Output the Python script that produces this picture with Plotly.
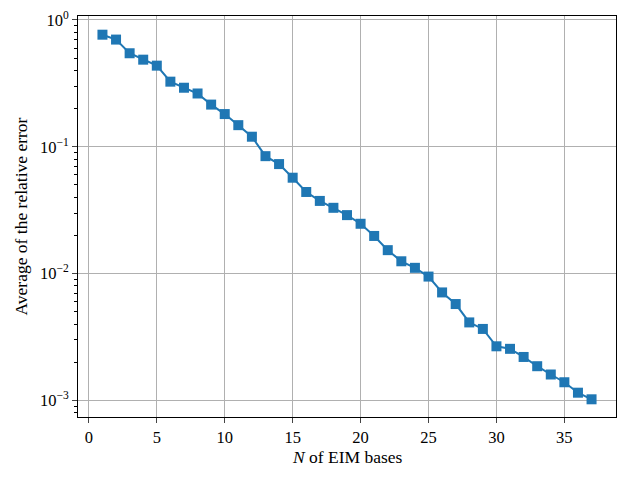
import plotly.graph_objects as go

n_bases = list(range(1, 38))
avg_rel_error = [0.765, 0.70, 0.546, 0.486, 0.436, 0.326, 0.292, 0.263, 0.215, 0.181,
                 0.148, 0.120, 0.0843, 0.073, 0.057, 0.044, 0.0374, 0.033, 0.0289, 0.0247,
                 0.0198, 0.0153, 0.0125, 0.0111, 0.00947, 0.0071, 0.00575, 0.00412, 0.00366, 0.00267,
                 0.00255, 0.0022, 0.00186, 0.0016, 0.00139, 0.00115, 0.00102]
x_ticks = [0, 5, 10, 15, 20, 25, 30, 35]
y_ticks = [1e-3, 1e-2, 1e-1, 1]
y_ticktext = ["10<sup>−3</sup>", "10<sup>−2</sup>", "10<sup>−1</sup>", "10<sup>0</sup>"]
y_minor = [m * d for d in (1e-4, 1e-3, 1e-2, 1e-1) for m in range(2, 10)]
x_title = "<i>N</i> of EIM bases"
y_title = "Average of the relative error"

font = "Liberation Serif, DejaVu Serif, serif"
fig = go.Figure(go.Scatter(
    x=n_bases, y=avg_rel_error, mode="lines+markers",
    line=dict(color="#1f77b4", width=2),
    marker=dict(symbol="square", size=10, color="#1f77b4",
                line=dict(color="#1f77b4", width=0)),
))
fig.update_layout(
    width=632, height=477,
    margin=dict(l=78, r=16, t=16, b=60),
    plot_bgcolor="white", paper_bgcolor="white",
    font=dict(family=font, size=16, color="black"),
    showlegend=False,
    annotations=[
        dict(text=x_title, xref="paper", yref="paper", x=0.5, y=0, yshift=-40,
             showarrow=False, yanchor="middle", xanchor="center", font=dict(size=17.5)),
        dict(text=y_title, xref="paper", yref="paper", x=0, y=0.5, xshift=-58,
             showarrow=False, yanchor="middle", xanchor="center", textangle=-90,
             font=dict(size=17.5)),
    ],
)
fig.update_xaxes(
    range=[-0.8, 38.8], tickvals=x_ticks, ticks="outside", ticklen=5, tickwidth=1,
    showline=True, linecolor="black", linewidth=1, mirror=True,
    showgrid=True, gridcolor="#b0b0b0", gridwidth=1, zeroline=False,
    tickfont=dict(size=16.5), automargin=False,
)
fig.update_yaxes(
    type="log", range=[-3.131, 0.031], tickvals=y_ticks, ticktext=y_ticktext,
    ticks="outside", ticklen=5, tickwidth=1,
    showline=True, linecolor="black", linewidth=1, mirror=True,
    showgrid=True, gridcolor="#b0b0b0", gridwidth=1, zeroline=False,
    tickfont=dict(size=16.5), automargin=False,
    minor=dict(ticks="outside", ticklen=3, tickwidth=1, tickcolor="black",
               tickmode="array", tickvals=y_minor, showgrid=False),
)
fig.write_html("out.html", config={"displayModeBar": False},
               post_script="document.body.style.margin='0';")
